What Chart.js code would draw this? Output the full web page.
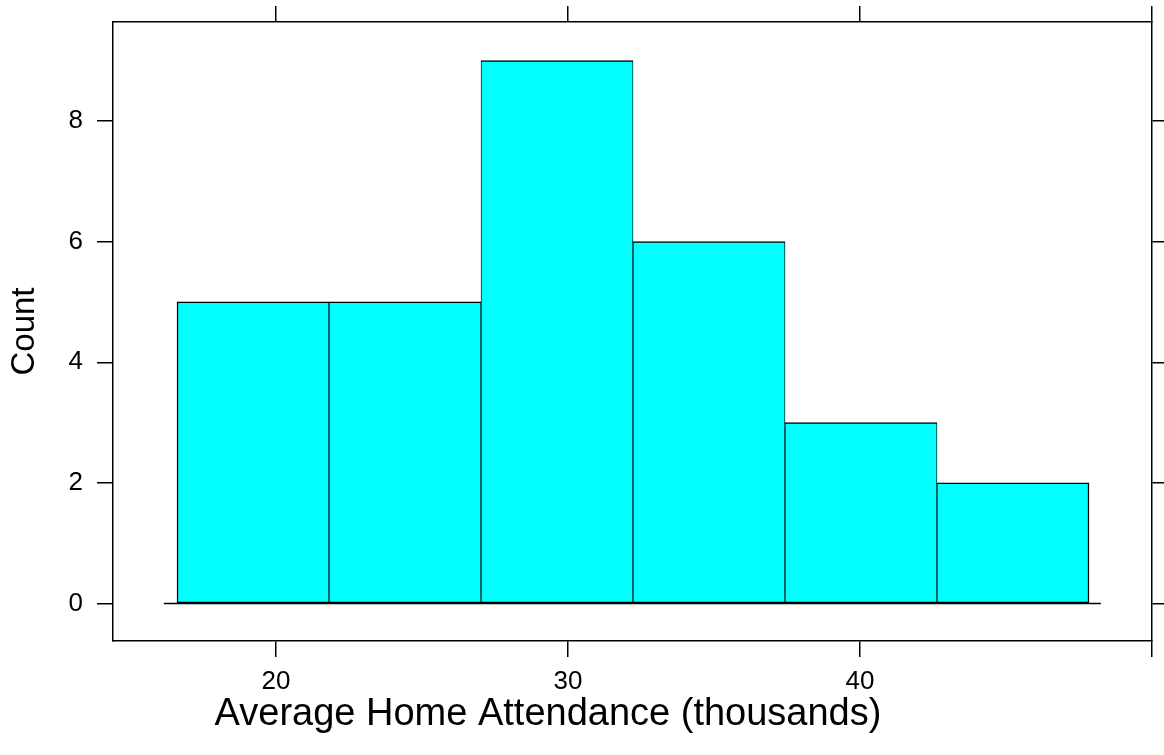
<!DOCTYPE html>
<html>
<head>
<meta charset="utf-8">
<script src="https://cdn.jsdelivr.net/npm/chart.js@4.4.0/dist/chart.umd.min.js"></script>
<style>
  html, body { margin: 0; padding: 0; background: #ffffff; }
  #wrap { width: 1164px; height: 755px; }
</style>
</head>
<body>
<div id="wrap"><canvas id="c" width="1164" height="755"></canvas></div>
<script>
// Histogram of average home attendance (thousands)
const binEdges = [16.61, 21.82, 27.02, 32.23, 37.43, 42.64, 47.84];
const counts = [5, 5, 9, 6, 3, 2];
const xTicks = [20, 30, 40, 50];
const xTickLabels = ['20', '30', '40', ''];
const yTicks = [0, 2, 4, 6, 8];
const yTickLabels = ['0', '2', '4', '6', '8'];
const xLimits = [14.42, 50.0];
const yLimits = [-0.62, 9.64];
const baselineSpan = [16.16, 48.25];
const xTitle = 'Average Home Attendance (thousands)';
const yTitle = 'Count';

const FONT = "'Liberation Sans', Arial, Helvetica, sans-serif";
const INK = '#000000';

const barData = counts.map((c, i) => ({ x: (binEdges[i] + binEdges[i + 1]) / 2, y: c }));
const lineData = baselineSpan.map(v => ({ x: v, y: 0 }));

function fixTicks(values) {
  return scale => { scale.ticks = values.map(v => ({ value: v })); };
}

// x-axis caption drawn below the tick labels
const xCaption = {
  id: 'xCaption',
  afterDraw(chart, args, opts) {
    const ctx = chart.ctx;
    ctx.save();
    ctx.fillStyle = INK;
    ctx.font = opts.size + 'px ' + FONT;
    ctx.textAlign = 'center';
    ctx.textBaseline = 'alphabetic';
    ctx.fillText(opts.text, opts.x, opts.y);
    ctx.restore();
  }
};

const gridOpts = {
  drawOnChartArea: false,
  drawTicks: true,
  tickLength: 16,
  color: INK,
  lineWidth: 1.5,
  offset: false
};
const borderOpts = { display: true, color: INK, width: 1.5 };

function sideAxis(pos, size) {
  const horizontal = pos === 'top' || pos === 'bottom';
  return {
    type: 'linear',
    position: pos,
    offset: false,
    min: horizontal ? xLimits[0] : yLimits[0],
    max: horizontal ? xLimits[1] : yLimits[1],
    afterBuildTicks: fixTicks(horizontal ? xTicks : yTicks),
    afterFit: s => {
      if (horizontal) { s.height = size; } else { s.width = size; }
      s.paddingTop = 0; s.paddingBottom = 0; s.paddingLeft = 0; s.paddingRight = 0;
    },
    grid: gridOpts,
    border: borderOpts,
    ticks: { callback: () => '', autoSkip: false }
  };
}

new Chart(document.getElementById('c'), {
  data: {
    datasets: [
      {
        type: 'line',
        data: lineData,
        borderColor: INK,
        borderWidth: 1.5,
        pointRadius: 0,
        xAxisID: 'x',
        yAxisID: 'y',
        order: 2
      },
      {
        type: 'bar',
        data: barData,
        backgroundColor: '#00ffff',
        borderColor: INK,
        borderWidth: ctx => ({
          top: 1.5,
          bottom: 1.5,
          left: ctx.dataIndex === 0 ? 1.5 : 0.9,
          right: ctx.dataIndex === counts.length - 1 ? 1.5 : 0.9
        }),
        borderSkipped: false,
        barPercentage: 1,
        categoryPercentage: 1,
        xAxisID: 'x',
        yAxisID: 'y',
        order: 1
      }
    ]
  },
  options: {
    responsive: false,
    animation: false,
    devicePixelRatio: 1,
    layout: { padding: 0 },
    plugins: {
      legend: { display: false },
      tooltip: { enabled: false },
      xCaption: { text: xTitle, size: 38, x: 548, y: 725 }
    },
    scales: {
      x: Object.assign(sideAxis('bottom', 114), {
        ticks: {
          color: INK,
          font: { family: FONT, size: 26 },
          padding: 9,
          maxRotation: 0,
          autoSkip: false,
          callback: v => xTickLabels[xTicks.indexOf(v)]
        }
      }),
      xTop: sideAxis('top', 22),
      y: Object.assign(sideAxis('left', 113), {
        ticks: {
          color: INK,
          font: { family: FONT, size: 26 },
          padding: 14,
          autoSkip: false,
          callback: v => yTickLabels[yTicks.indexOf(v)]
        },
        title: {
          display: true,
          text: yTitle,
          color: INK,
          font: { family: FONT, size: 33 },
          padding: { top: 5, bottom: 0 }
        }
      }),
      yRight: sideAxis('right', 12)
    }
  },
  plugins: [xCaption]
});
</script>
</body>
</html>
